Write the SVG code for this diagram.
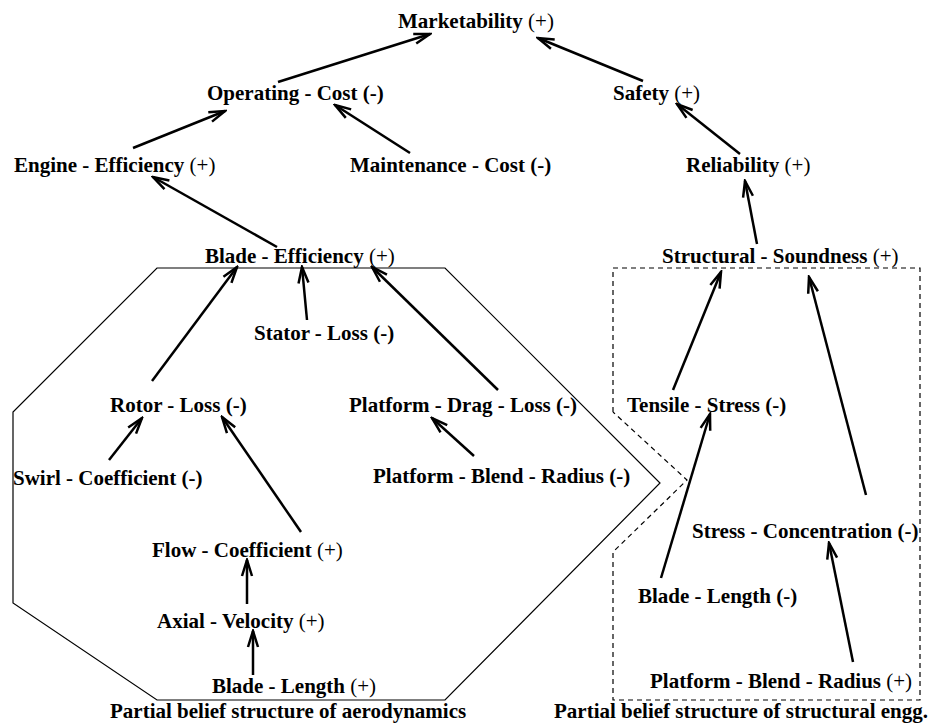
<svg xmlns="http://www.w3.org/2000/svg" width="938" height="725" viewBox="0 0 938 725">
  <style>
    text { font-family: "Liberation Serif", "Times New Roman", serif; font-size: 21px; font-weight: bold; fill: #000; }
    .n { font-weight: normal; }
    .edge { stroke: #000; stroke-width: 2.5; fill: none; marker-end: url(#open); }
    .frame { stroke: #000; stroke-width: 1.2; fill: none; }
    .dash { stroke: #000; stroke-width: 1.2; fill: none; stroke-dasharray: 5 4; }
  </style>
  <defs>
    <marker id="open" markerUnits="userSpaceOnUse" markerWidth="20" markerHeight="20" viewBox="-18 -8 20 16" refX="0" refY="0" orient="auto">
      <path d="M-16,-5 L0,0 L-16,5" stroke="#000" stroke-width="2.5" fill="none"/>
    </marker>
  </defs>
  <rect width="938" height="725" fill="#fff"/>

  <!-- group outlines -->
  <g id="frames">
    <polygon class="frame" points="157,268 445,268 660,483 445,700 157,700 13,603 13,412"/>
    <polyline class="dash" points="613,412 613,268 920,268 920,700 613,700 613,552 687,480 613,412"/>
  </g>

  <!-- connectors -->
  <g id="connectors">
    <line class="edge" x1="278" y1="82" x2="430" y2="34"/>
    <line class="edge" x1="643" y1="81" x2="538" y2="38"/>
    <line class="edge" x1="133" y1="148" x2="225" y2="111"/>
    <line class="edge" x1="410" y1="153" x2="335" y2="105"/>
    <line class="edge" x1="740" y1="154" x2="677" y2="104"/>
    <line class="edge" x1="277" y1="247" x2="153" y2="177"/>
    <line class="edge" x1="757" y1="244" x2="745" y2="181"/>
    <line class="edge" x1="152" y1="381" x2="237" y2="267"/>
    <line class="edge" x1="307" y1="320" x2="302" y2="267"/>
    <line class="edge" x1="498" y1="390" x2="372" y2="267"/>
    <line class="edge" x1="109" y1="460" x2="142" y2="418"/>
    <line class="edge" x1="301" y1="532" x2="222" y2="417"/>
    <line class="edge" x1="474" y1="456" x2="432" y2="418"/>
    <line class="edge" x1="247" y1="604" x2="247" y2="560"/>
    <line class="edge" x1="253" y1="675" x2="253" y2="631"/>
    <line class="edge" x1="673" y1="390" x2="721" y2="272"/>
    <line class="edge" x1="866" y1="495" x2="809" y2="277"/>
    <line class="edge" x1="661" y1="578" x2="710" y2="414"/>
    <line class="edge" x1="853" y1="662" x2="829" y2="543"/>
  </g>

  <!-- nodes -->
  <g id="marketability"><text x="398" y="28">Marketability <tspan class="n">(+)</tspan></text></g>
  <g id="operating-cost"><text x="207" y="100">Operating - Cost (-)</text></g>
  <g id="safety"><text x="613" y="100">Safety <tspan class="n">(+)</tspan></text></g>
  <g id="engine-efficiency"><text x="14" y="172">Engine - Efficiency <tspan class="n">(+)</tspan></text></g>
  <g id="maintenance-cost"><text x="350" y="172">Maintenance - Cost (-)</text></g>
  <g id="reliability"><text x="686" y="172">Reliability <tspan class="n">(+)</tspan></text></g>
  <g id="blade-efficiency"><text x="205" y="263">Blade - Efficiency <tspan class="n">(+)</tspan></text></g>
  <g id="structural-soundness"><text x="662" y="263">Structural - Soundness <tspan class="n">(+)</tspan></text></g>
  <g id="stator-loss"><text x="254" y="340">Stator - Loss (-)</text></g>
  <g id="rotor-loss"><text x="110" y="412">Rotor - Loss (-)</text></g>
  <g id="platform-drag-loss"><text x="349" y="412">Platform - Drag - Loss (-)</text></g>
  <g id="tensile-stress"><text x="627" y="412">Tensile - Stress (-)</text></g>
  <g id="swirl-coefficient"><text x="13" y="485">Swirl - Coefficient (-)</text></g>
  <g id="platform-blend-radius-aero"><text x="373" y="483">Platform - Blend - Radius (-)</text></g>
  <g id="stress-concentration"><text x="692" y="538">Stress - Concentration (-)</text></g>
  <g id="flow-coefficient"><text x="152" y="557">Flow - Coefficient <tspan class="n">(+)</tspan></text></g>
  <g id="blade-length-struct"><text x="638" y="603">Blade - Length (-)</text></g>
  <g id="axial-velocity"><text x="157" y="628">Axial - Velocity <tspan class="n">(+)</tspan></text></g>
  <g id="blade-length-aero"><text x="212" y="693">Blade - Length <tspan class="n">(+)</tspan></text></g>
  <g id="platform-blend-radius-struct"><text x="650" y="688">Platform - Blend - Radius <tspan class="n">(+)</tspan></text></g>

  <!-- captions -->
  <g id="captions">
    <text x="110" y="718">Partial belief structure of aerodynamics</text>
    <text x="554" y="718">Partial belief structure of structural engg.</text>
  </g>
</svg>
